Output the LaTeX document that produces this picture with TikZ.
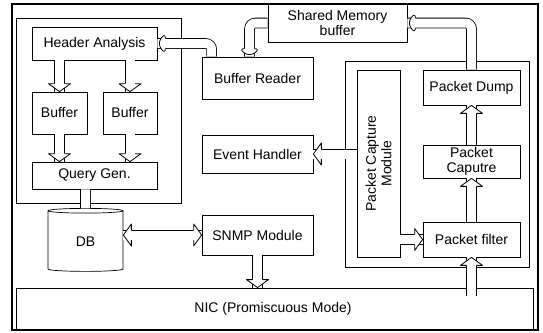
\documentclass[tikz,border=0pt]{standalone}
\usepackage{fontspec}
\setmainfont{Liberation Sans}
\usetikzlibrary{arrows.meta,shapes.geometric,calc,decorations.markings}

\begin{document}
\begin{tikzpicture}[
  x=1pt, y=-1pt,
  font=\fontsize{14}{15.5}\selectfont,
  blk/.style={draw=black, line width=0.7pt, fill=white, align=center, inner sep=1pt},
  frame/.style={draw=black, line width=0.8pt},
  head/.style={draw=black, fill=white, line width=0.8pt, line join=round},
  pipe/.style={double=white, double distance=9pt, line width=0.8pt},
  fat/.style={pipe, postaction={decorate, decoration={markings,
    mark=at position 1 with {\draw[head] (-8,-5) -- (-8,-11) -- (0,0) -- (-8,11) -- (-8,5);}}}},
  fatboth/.style={pipe, postaction={decorate, decoration={markings,
    mark=at position 0 with {\draw[head] (8,-5) -- (8,-11) -- (0,0) -- (8,11) -- (8,5);},
    mark=at position 1 with {\draw[head] (-8,-5) -- (-8,-11) -- (0,0) -- (-8,11) -- (-8,5);}}}},
  bent/.style={fat, rounded corners=6pt}
]
\useasboundingbox (0,0) rectangle (543,332);

% Frames: outer border, analysis group, capture region, NIC
\draw[frame, line width=1.1pt] (12,4) rectangle (538,330);
\draw[frame] (16,18) rectangle (181,203);
\draw[frame] (345,61) rectangle (529,267);
\node[frame, minimum width=517, minimum height=41, inner sep=0pt] (nic) at (274.5,308.5) {};
\node at (273,309) {NIC (Promiscuous Mode)};

% Analysis side
\node[blk, minimum width=125, minimum height=33] (ha) at (94.5,43.5) {Header Analysis};
\node[blk, minimum width=55, minimum height=42] (buf1) at (59.5,113) {Buffer};
\node[blk, minimum width=54, minimum height=42] (buf2) at (130,113) {Buffer};
\node[blk, minimum width=125, minimum height=27] (qg) at (94.5,175.5) {Query Gen.};
\node[blk, cylinder, shape border rotate=90, aspect=0.22, minimum width=75,
  minimum height=63] (db) at (85.5,241.5) {DB};

% Middle column
\node[blk, minimum width=139, minimum height=38] (sm) at (337.5,23) {Shared Memory\\buffer};
\node[blk, minimum width=111, minimum height=42] (br) at (257.5,78) {Buffer Reader};
\node[blk, minimum width=111, minimum height=38] (eh) at (257.5,154) {Event Handler};
\node[blk, minimum width=111, minimum height=40] (snmp) at (257.5,235) {SNMP Module};

% Capture side
\node[blk, minimum width=187, minimum height=43, rotate=90] (pcm) at (378.5,163.5) {Packet Capture\\Module};
\node[blk, minimum width=97, minimum height=35] (pd) at (471.5,87.5) {Packet Dump};
\node[blk, minimum width=97, minimum height=33] (pc) at (471.5,161.5) {Packet\\Caputre};
\node[blk, minimum width=97, minimum height=35] (pf) at (471.5,239.5) {Packet filter};

% Flow inside the analysis group
\draw[fat] (ha.south -| buf1.north) -- (buf1.north);
\draw[fat] (ha.south -| buf2.north) -- (buf2.north);
\draw[fat] (buf1.south) -- (qg.north -| buf1.south);
\draw[fat] (buf2.south) -- (qg.north -| buf2.south);
\draw[pipe] (qg.south -| db.center) -- (db.north);

% Shared memory loop
\draw[bent] (pd.north) |- (sm.east);
\draw[bent] (sm.west) -| ($(br.north)+(-8,0)$);
\draw[bent] ($(br.north west)+(10,0)$) |- (ha.east);

% Capture chain
\coordinate (nicin) at ($(nic.north -| pf.south)+(0,8)$);
\draw[fat] (nicin) -- (pf.south);
\draw[fat] (pf.north) -- (pc.south);
\draw[fat] (pc.north) -- (pd.south);
\draw[fat] (pf.west -| pcm.south) -- (pf.west);
\draw[fat] (eh.east -| pcm.north) -- (eh.east);

% SNMP links
\draw[fatboth] (snmp.west -| db.east) -- (snmp.west);
\draw[fat] (snmp.south) -- (snmp.south |- nic.north);

\end{tikzpicture}
\end{document}
